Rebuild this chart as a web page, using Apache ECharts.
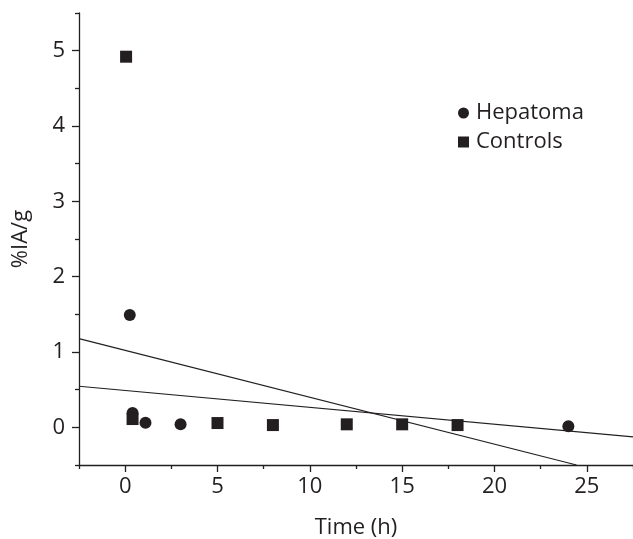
<!DOCTYPE html>
<html><head><meta charset="utf-8">
<script src="https://cdn.jsdelivr.net/npm/echarts@6/dist/echarts.min.js"></script>
<style>html,body{margin:0;padding:0;background:#fff}#c{width:633px;height:539px}</style>
</head><body><div id="c"></div>
<script>
var hepatoma = [[0.25,1.49],[0.4,0.19],[1.1,0.06],[3,0.04],[24,0.013]];
var controls = [[0.05,4.92],[0.4,0.11],[5,0.057],[8,0.03],[12,0.04],[15,0.04],[18,0.03]];
var fitSteep = [[-2.5,1.178],[24.44,-0.5]];
var fitFlat = [[-2.5,0.545],[27.5,-0.128]];
var xMajor = [0,5,10,15,20,25];
var xMinor = [-2.5,2.5,7.5,12.5,17.5,22.5,27.5];
var yMajor = [0,1,2,3,4,5];
var yMinor = [-0.5,0.5,1.5,2.5,3.5,4.5,5.5];
var C = '#231f20';
var F = 'Open Sans';
var FS = 22;
var chart = echarts.init(document.getElementById('c'));
var lineAx = {show:true,onZero:false,lineStyle:{color:C,width:1.3}};
chart.setOption({
  animation:false,
  grid:{left:79,right:0,top:13,bottom:74,containLabel:false,outerBoundsMode:'none'},
  legend:{orient:'vertical',left:453,top:97,itemWidth:11,itemHeight:11,itemGap:7,
    textStyle:{fontFamily:F,fontSize:FS,color:C,padding:[0,0,0,2]},
    data:[{name:'Hepatoma',icon:'circle'},{name:'Controls',icon:'rect'}]},
  xAxis:[
    {type:'value',min:-2.5,max:27.5,position:'bottom',axisLine:lineAx,splitLine:{show:false},
     axisTick:{show:true,length:7,customValues:xMajor,lineStyle:{color:C,width:1.3}},
     axisLabel:{customValues:xMajor,fontFamily:F,fontSize:FS,color:C,margin:11},
     name:'Time (h)',nameLocation:'middle',nameGap:52,nameTextStyle:{fontFamily:F,fontSize:FS,color:C}},
    {type:'value',min:-2.5,max:27.5,position:'bottom',axisLine:{show:false,onZero:false},splitLine:{show:false},
     axisTick:{show:true,length:4,customValues:xMinor,lineStyle:{color:C,width:1.3}},
     axisLabel:{show:false}}
  ],
  yAxis:[
    {type:'value',min:-0.5,max:5.5,position:'left',axisLine:lineAx,splitLine:{show:false},
     axisTick:{show:true,length:7,customValues:yMajor,lineStyle:{color:C,width:1.3}},
     axisLabel:{customValues:yMajor,fontFamily:F,fontSize:FS,color:C,margin:14},
     name:'%IA/g',nameLocation:'middle',nameRotate:90,nameGap:47,nameTextStyle:{fontFamily:F,fontSize:FS,color:C}},
    {type:'value',min:-0.5,max:5.5,position:'left',axisLine:{show:false,onZero:false},splitLine:{show:false},
     axisTick:{show:true,length:4,customValues:yMinor,lineStyle:{color:C,width:1.3}},
     axisLabel:{show:false}}
  ],
  series:[
    {type:'line',data:fitSteep,symbol:'none',lineStyle:{color:C,width:1.2},silent:true},
    {type:'line',data:fitFlat,symbol:'none',lineStyle:{color:C,width:1.2},silent:true},
    {name:'Hepatoma',type:'scatter',data:hepatoma,symbol:'circle',symbolSize:12,itemStyle:{color:C,opacity:1}},
    {name:'Controls',type:'scatter',data:controls,symbol:'rect',symbolSize:12,itemStyle:{color:C,opacity:1}}
  ]
});
</script></body></html>
